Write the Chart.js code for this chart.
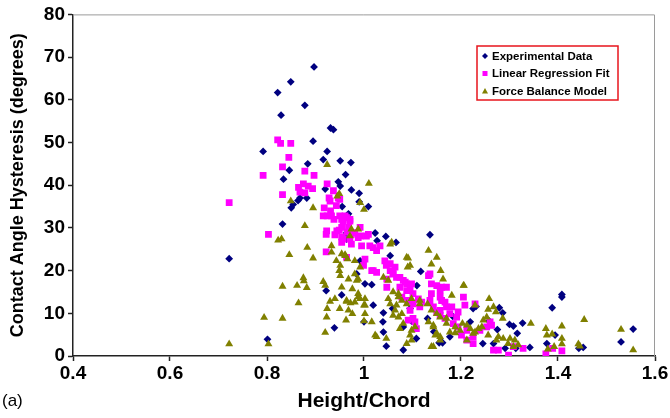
<!DOCTYPE html>
<html>
<head>
<meta charset="utf-8">
<script src="https://cdn.jsdelivr.net/npm/chart.js@4/dist/chart.umd.min.js"></script>
<style>
  html, body { margin: 0; padding: 0; background: #fff; }
  #wrap { width: 670px; height: 418px; }
</style>
</head>
<body>
<div id="wrap"><canvas id="hysteresisChart" width="670" height="418"></canvas></div>
<script>
// Experimental Data
const expX = [0.897, 0.849, 0.822, 0.878, 0.829, 0.931, 0.937, 0.895, 0.792, 0.924, 0.916, 0.951, 0.973, 0.884, 0.846,
  0.962, 0.834, 0.947, 0.951, 0.920, 0.974, 0.990, 0.882, 0.868, 0.864, 0.854, 0.850, 0.990, 1.009, 0.955, 0.968,
  0.832, 0.722, 0.801, 1.023, 1.045, 1.027, 1.066, 1.136, 0.964, 1.054, 0.992, 1.117, 0.985, 1.002, 1.016, 0.954,
  1.109, 1.019, 1.059, 1.040, 1.095, 1.131, 1.039, 1.000, 1.081, 1.108, 1.040, 1.046, 1.081, 1.162, 1.177, 1.183,
  1.219, 1.225, 1.231, 1.279, 1.286, 1.258, 1.275, 1.300, 1.308, 1.316, 1.327, 1.342, 1.245, 1.267, 1.291, 1.313,
  1.408, 1.408, 1.388, 1.377, 1.394, 1.443, 1.452, 1.555, 1.530, 0.922, 0.939, 0.964, 1.098, 1.144, 1.155];
const expY = [67.7, 64.2, 61.7, 58.7, 56.4, 53.4, 53.0, 50.3, 47.9, 47.9, 46.0, 45.7, 45.3, 45.0, 43.5,
  42.5, 41.4, 40.8, 39.8, 39.1, 38.9, 38.1, 37.0, 37.0, 36.4, 35.5, 34.7, 36.1, 35.0, 35.0, 33.3,
  30.9, 22.8, 3.9, 28.8, 28.0, 27.0, 26.6, 28.4, 27.4, 23.5, 22.3, 19.8, 19.2, 16.9, 16.7, 14.3,
  16.5, 11.9, 11.1, 10.1, 11.1, 8.8, 8.0, 8.0, 6.8, 4.1, 5.6, 2.3, 1.4, 3.1, 4.5, 9.3,
  8.0, 11.1, 11.6, 11.3, 10.1, 8.2, 6.2, 7.4, 7.0, 5.3, 7.7, 2.0, 2.9, 2.9, 1.8, 1.8,
  14.4, 13.8, 11.3, 2.9, 4.9, 1.8, 2.0, 6.3, 3.3, 15.3, 6.6, 28.8, 8.2, 5.7, 3.1];

// Linear Regression Fit
const fitX = [0.822, 0.828, 0.849, 0.845, 0.832, 0.792, 0.878, 0.897, 0.865, 0.875, 0.885, 0.894, 0.868, 0.878, 0.924,
  0.937, 0.832, 0.928, 0.947, 0.722, 0.803, 0.922, 0.922, 0.918, 0.930, 0.931, 0.943, 0.950, 0.924, 0.938, 0.950,
  0.957, 0.949, 0.940, 0.954, 0.965, 0.964, 0.954, 0.964, 0.971, 0.954, 0.968, 0.981, 0.992, 0.992, 1.005, 0.971,
  0.916, 0.933, 0.961, 0.971, 0.923, 0.944, 0.957, 0.974, 0.988, 1.009, 0.995, 1.012, 1.026, 1.002, 0.999, 1.019,
  1.043, 1.054, 1.064, 1.047, 1.060, 1.074, 1.085, 1.047, 1.074, 1.088, 1.098, 1.078, 1.091, 1.101, 1.115, 1.095,
  1.133, 1.139, 1.150, 1.139, 1.157, 1.167, 1.143, 1.157, 1.170, 1.177, 1.191, 1.205, 1.208, 1.184, 1.194, 1.212,
  1.201, 1.225, 1.239, 1.253, 1.260, 1.277, 1.298, 1.267, 1.308, 1.328, 1.101, 1.091, 1.160, 1.160, 1.181, 1.194,
  1.229, 1.263, 1.225, 1.212, 1.375, 1.389, 1.408, 0.954, 0.974, 1.019, 1.033, 1.016, 1.026, 1.046, 1.054, 1.060,
  1.067, 1.081, 1.088, 1.095, 1.101, 1.112, 1.119, 1.136, 1.157, 1.170, 1.136, 1.150, 1.157, 1.167, 1.105, 1.108];
const fitY = [50.6, 49.8, 49.8, 46.5, 44.3, 42.3, 43.3, 42.3, 39.5, 40.3, 39.8, 39.2, 38.4, 38.2, 40.3,
  38.7, 37.8, 37.0, 37.0, 35.9, 28.5, 28.5, 24.4, 34.7, 36.3, 34.0, 35.2, 36.7, 32.8, 32.0, 32.8,
  31.6, 29.5, 28.4, 27.9, 29.0, 23.1, 32.0, 32.4, 32.0, 30.1, 30.1, 28.9, 30.1, 28.1, 28.1, 27.4,
  32.8, 32.8, 32.8, 31.6, 29.3, 29.3, 27.4, 28.5, 27.7, 28.5, 25.8, 25.8, 24.7, 22.7, 21.2, 20.0,
  22.3, 21.6, 20.8, 18.0, 19.6, 18.4, 17.3, 16.1, 16.1, 15.3, 16.9, 13.8, 13.0, 12.2, 11.5, 10.7,
  18.8, 16.9, 16.5, 14.6, 13.8, 12.6, 11.5, 10.7, 11.5, 9.9, 9.1, 13.8, 11.9, 7.6, 6.8, 6.0,
  4.9, 4.5, 6.0, 6.8, 8.0, 1.4, 0.2, 1.4, 2.2, 1.8, 8.8, 8.4, 16.1, 13.0, 11.5, 10.3,
  12.2, 7.2, 2.9, 3.7, 0.5, 1.8, 1.2, 26.6, 26.2, 25.4, 25.8, 20.0, 19.6, 21.2, 20.0, 19.2,
  18.4, 17.7, 16.9, 15.7, 14.6, 13.4, 12.6, 19.2, 15.3, 16.1, 13.0, 10.3, 9.5, 8.8, 8.0, 6.4];

// Force Balance Model
const modelX = [0.722, 0.803, 0.794, 0.832, 0.865, 0.832, 0.862, 0.875, 0.876, 0.882, 0.846, 0.823, 0.830, 0.878, 0.883,
  0.849, 0.895, 0.895, 0.916, 0.920, 0.933, 0.933, 0.943, 0.949, 0.951, 0.961, 0.966, 0.930, 0.940, 0.950, 0.924,
  0.923, 0.963, 0.920, 0.964, 0.924, 0.949, 1.010, 0.992, 1.000, 0.974, 0.988, 0.971, 1.054, 0.945, 0.954, 0.981,
  0.992, 0.951, 0.968, 1.091, 1.133, 1.150, 1.139, 1.158, 1.163, 1.181, 1.205, 0.954, 0.988, 0.988, 0.976, 0.964,
  0.972, 1.002, 1.002, 1.002, 1.016, 1.023, 1.046, 1.050, 1.054, 1.071, 1.064, 1.071, 1.078, 1.081, 1.088, 1.090,
  1.098, 1.088, 1.105, 1.115, 1.139, 1.150, 1.157, 1.170, 1.143, 1.147, 1.157, 1.143, 1.170, 1.177, 1.188, 1.203,
  1.219, 1.229, 1.229, 1.258, 1.267, 1.272, 1.246, 1.253, 1.256, 1.212, 1.273, 1.297, 1.308, 1.301, 0.961, 0.981,
  0.985, 0.988, 0.992, 0.981, 0.968, 1.000, 0.976, 1.000, 1.026, 1.057, 1.088, 1.095, 1.040, 1.050, 1.060, 1.071,
  1.078, 1.067, 1.098, 1.060, 1.074, 1.095, 1.098, 1.115, 1.131, 1.133, 1.143, 1.150, 1.157, 1.139, 1.206, 1.256,
  1.286, 1.188, 1.198, 1.212, 1.225, 1.236, 1.243, 1.277, 1.287, 1.311, 1.318, 1.344, 1.375, 1.377, 1.388, 1.408,
  1.408, 1.408, 1.392, 1.379, 1.454, 1.442, 1.445, 1.530, 1.555];
const modelY = [2.8, 2.8, 9.0, 8.8, 12.4, 16.3, 16.5, 18.3, 17.6, 16.0, 23.7, 27.1, 27.4, 30.5, 25.4,
  36.3, 34.7, 22.9, 17.4, 16.5, 25.8, 24.3, 22.3, 20.0, 18.8, 23.7, 22.7, 12.8, 13.4, 11.1, 11.1,
  9.1, 8.4, 5.5, 12.8, 44.8, 38.0, 40.4, 35.9, 34.3, 29.7, 29.7, 28.1, 26.2, 37.4, 23.9, 22.3,
  20.8, 21.2, 18.0, 22.9, 24.7, 23.1, 21.5, 20.0, 18.0, 14.2, 16.5, 16.1, 18.0, 13.8, 15.7, 13.0,
  12.4, 13.4, 11.9, 9.9, 8.0, 4.9, 4.1, 13.4, 12.2, 14.6, 10.7, 9.1, 9.9, 7.6, 12.2, 20.8,
  6.0, 2.9, 6.8, 13.0, 10.7, 9.9, 9.1, 8.8, 7.2, 4.9, 4.5, 2.2, 7.6, 5.6, 5.4, 7.6,
  6.4, 5.6, 11.9, 13.4, 11.5, 10.3, 8.4, 9.1, 4.9, 3.7, 3.7, 2.9, 2.2, 4.1, 23.5, 19.2,
  17.7, 14.6, 13.4, 12.6, 10.7, 11.9, 9.9, 8.2, 4.5, 26.6, 23.1, 21.2, 18.4, 17.7, 15.0, 13.8,
  13.0, 11.9, 13.4, 9.5, 6.4, 4.9, 3.7, 12.2, 12.2, 8.0, 6.8, 5.3, 3.7, 2.2, 16.5, 10.9,
  8.8, 6.8, 6.0, 7.2, 5.3, 6.4, 6.8, 4.5, 4.1, 3.7, 2.6, 7.6, 6.4, 4.9, 5.1, 7.0,
  4.1, 2.8, 2.2, 1.6, 8.5, 2.8, 2.3, 6.2, 1.4];

const seriesNames = ['Experimental Data', 'Linear Regression Fit', 'Force Balance Model'];
const xTicks = [0.4, 0.6, 0.8, 1.0, 1.2, 1.4, 1.6];
const xTickLabels = ['0.4', '0.6', '0.8', '1', '1.2', '1.4', '1.6'];

const FONT = '"Liberation Sans", Arial, sans-serif';
const NAVY = '#000080';
const MAGENTA = '#ff00ff';
const OLIVE = '#808000';

function toPoints(xs, ys) {
  return xs.map((x, i) => ({ x: x, y: ys[i] }));
}

// gray frame on top and right of the plot area
const frameLines = {
  id: 'frameLines',
  beforeDatasetsDraw(chart) {
    const { ctx, chartArea: a } = chart;
    ctx.save();
    ctx.strokeStyle = '#9a9a9a';
    ctx.lineWidth = 1;
    ctx.beginPath();
    ctx.moveTo(a.left, a.top + 0.5);
    ctx.lineTo(a.right - 0.5, a.top + 0.5);
    ctx.lineTo(a.right - 0.5, a.bottom);
    ctx.stroke();
    ctx.restore();
  }
};

// boxed legend in the upper right + panel label
const boxLegend = {
  id: 'boxLegend',
  afterDraw(chart) {
    const ctx = chart.ctx;
    const bx = 477, by = 46, bw = 141, bh = 54;
    ctx.save();
    ctx.fillStyle = '#fff';
    ctx.fillRect(bx, by, bw, bh);
    ctx.strokeStyle = '#e8141c';
    ctx.lineWidth = 1.5;
    ctx.strokeRect(bx, by, bw, bh);

    ctx.font = 'bold 11.5px ' + FONT;
    ctx.textBaseline = 'middle';
    ctx.fillStyle = '#000';
    const rows = [56, 73.5, 91];
    rows.forEach((ry, i) => {
      const mx = 485;
      if (i === 0) {
        ctx.fillStyle = NAVY;
        ctx.beginPath();
        ctx.moveTo(mx - 3, ry); ctx.lineTo(mx, ry - 3); ctx.lineTo(mx + 3, ry); ctx.lineTo(mx, ry + 3);
        ctx.closePath(); ctx.fill();
      } else if (i === 1) {
        ctx.fillStyle = MAGENTA;
        ctx.fillRect(mx - 2.5, ry - 2.5, 5, 5);
      } else {
        ctx.fillStyle = OLIVE;
        ctx.beginPath();
        ctx.moveTo(mx, ry - 3); ctx.lineTo(mx + 3, ry + 2.5); ctx.lineTo(mx - 3, ry + 2.5);
        ctx.closePath(); ctx.fill();
      }
      ctx.fillStyle = '#000';
      ctx.fillText(seriesNames[i], 492, ry + 0.5);
    });

    ctx.font = '17px ' + FONT;
    ctx.textBaseline = 'middle';
    ctx.fillText('(a)', 2, 401);
    ctx.restore();
  }
};

const tickFont = { family: FONT, size: 19, weight: 'bold' };

new Chart(document.getElementById('hysteresisChart'), {
  type: 'scatter',
  data: {
    datasets: [
      {
        label: seriesNames[0],
        data: toPoints(expX, expY),
        pointStyle: 'rectRot',
        pointRadius: 3.9,
        backgroundColor: NAVY,
        borderColor: NAVY,
        borderWidth: 0,
        order: 3
      },
      {
        label: seriesNames[1],
        data: toPoints(fitX, fitY),
        pointStyle: 'rect',
        pointRadius: 4.8,
        backgroundColor: MAGENTA,
        borderColor: MAGENTA,
        borderWidth: 0,
        order: 2
      },
      {
        label: seriesNames[2],
        data: toPoints(modelX, modelY),
        pointStyle: 'triangle',
        pointRadius: 4.6,
        backgroundColor: OLIVE,
        borderColor: OLIVE,
        borderWidth: 0,
        order: 1
      }
    ]
  },
  options: {
    responsive: false,
    animation: false,
    devicePixelRatio: 1,
    layout: { padding: { left: 0, right: 15, top: 12, bottom: 0 } },
    plugins: {
      legend: { display: false },
      tooltip: { enabled: false }
    },
    scales: {
      x: {
        type: 'linear',
        min: 0.4,
        max: 1.6,
        afterBuildTicks: (scale) => { scale.ticks = xTicks.map(v => ({ value: v })); },
        afterFit: (scale) => { scale.height = 62; },
        ticks: {
          callback: (v, i) => xTickLabels[i],
          font: tickFont,
          color: '#000',
          padding: 1,
          maxRotation: 0,
          autoSkip: false
        },
        grid: { drawOnChartArea: false, tickLength: 5, tickColor: '#222', tickWidth: 1.5 },
        border: { color: '#222', width: 1.5 },
        title: {
          display: true,
          text: 'Height/Chord',
          color: '#000',
          font: { family: FONT, size: 21, weight: 'bold' },
          padding: { top: 0, bottom: 4 }
        }
      },
      y: {
        min: 0,
        max: 80,
        afterFit: (scale) => { scale.width = 73; },
        ticks: {
          stepSize: 10,
          font: tickFont,
          color: '#000',
          padding: 3
        },
        grid: { drawOnChartArea: false, tickLength: 5, tickColor: '#222', tickWidth: 1.5 },
        border: { color: '#222', width: 1.5 },
        title: {
          display: true,
          text: 'Contact Angle Hysteresis (degrees)',
          color: '#000',
          font: { family: FONT, size: 18, weight: 'bold' },
          padding: { top: 7, bottom: 0 }
        }
      }
    }
  },
  plugins: [frameLines, boxLegend]
});
</script>
</body>
</html>
